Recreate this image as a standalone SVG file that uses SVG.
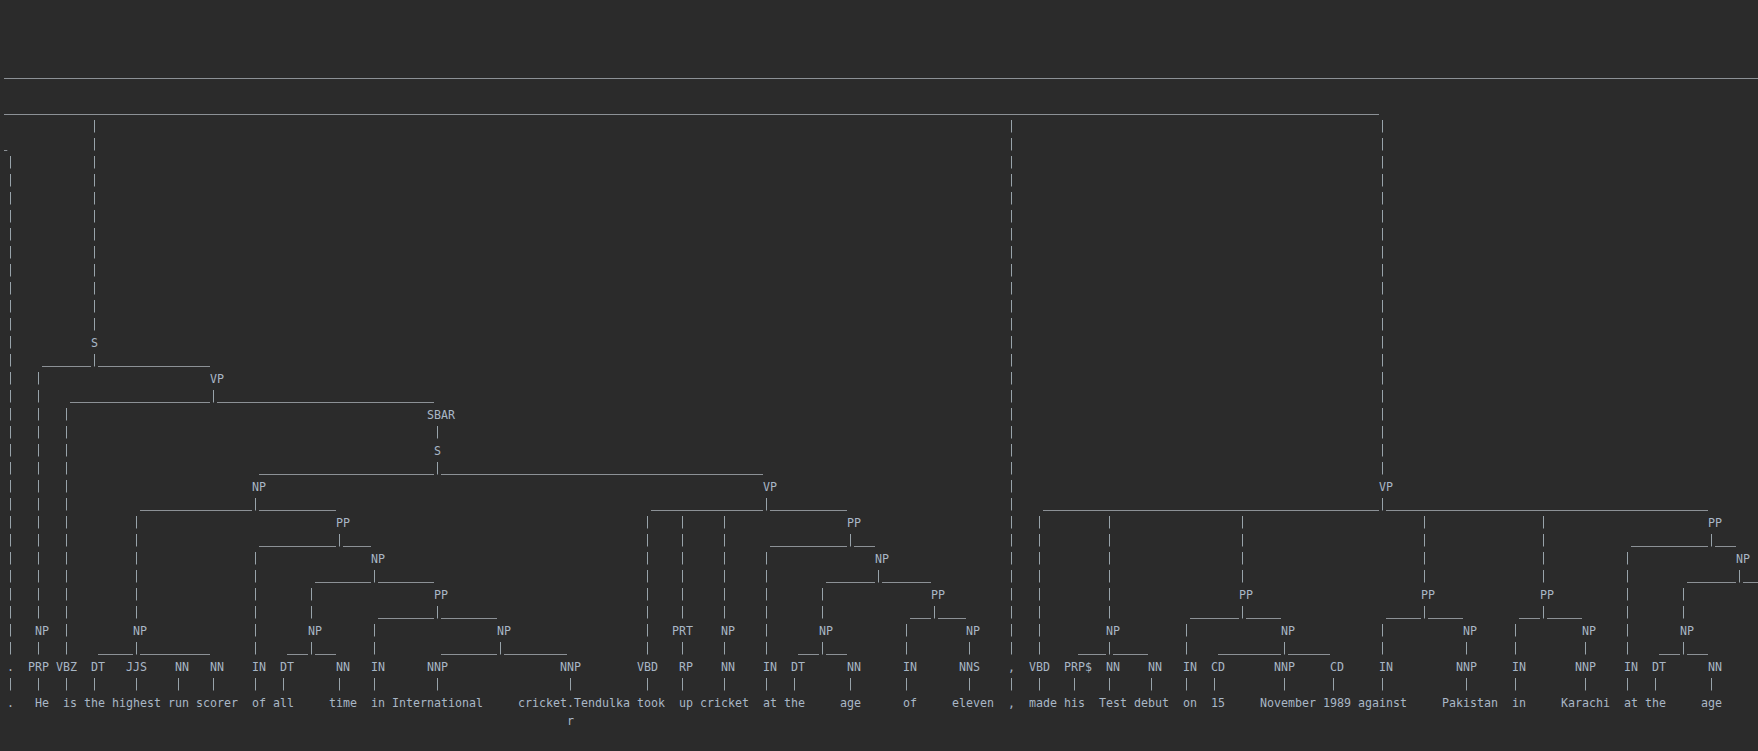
<svg xmlns="http://www.w3.org/2000/svg" width="1758" height="751" viewBox="0 0 1758 751">
<style>
text{font-family:"DejaVu Sans Mono","Liberation Mono",monospace;font-size:11.63px;fill:#a9b7c6;white-space:pre}
.h{fill:none;stroke:#8c9196;stroke-width:1}
.v{fill:none;stroke:#98a3aa;stroke-width:1;stroke-dasharray:12.5 5.5}
</style>
<rect width="1758" height="751" fill="#2b2b2b"/>
<g id="connectors">
<path class="h" d="M4 78.5H1758M4 114.5H1379M4 150.5H7.3
M42 366.5H91M98 366.5H210
M70 402.5H210M217 402.5H434
M259 474.5H434M441 474.5H763
M140 510.5H252M259 510.5H336M651 510.5H763M770 510.5H847M1043 510.5H1379M1386 510.5H1708
M259 546.5H336M343 546.5H371M770 546.5H847M854 546.5H875M1631 546.5H1708M1715 546.5H1736
M315 582.5H371M378 582.5H434M826 582.5H875M882 582.5H931M1687 582.5H1736M1743 582.5H1758
M378 618.5H434M441 618.5H497M910 618.5H931M938 618.5H966M1190 618.5H1239M1246 618.5H1281M1386 618.5H1421M1428 618.5H1463M1519 618.5H1540M1547 618.5H1582
M98 654.5H133M140 654.5H210M287 654.5H308M315 654.5H336M441 654.5H497M504 654.5H567M798 654.5H819M826 654.5H847M1078 654.5H1106M1113 654.5H1148M1218 654.5H1281M1288 654.5H1330M1659 654.5H1680M1687 654.5H1708"/>
<path class="v" d="M10.5 156V654.5M10.5 678V690.5
M38.5 372V618.5M38.5 642V654.5M38.5 678V690.5
M66.5 408V654.5M66.5 678V690.5
M94.5 120V330.5M94.5 354V366.5M94.5 678V690.5
M136.5 516V618.5M136.5 642V654.5M136.5 678V690.5
M178.5 678V690.5
M213.5 390V402.5M213.5 678V690.5
M255.5 498V510.5M255.5 552V654.5M255.5 678V690.5
M283.5 678V690.5
M311.5 588V618.5M311.5 642V654.5
M339.5 534V546.5M339.5 678V690.5
M374.5 570V582.5M374.5 624V654.5M374.5 678V690.5
M437.5 426V438.5M437.5 462V474.5M437.5 606V618.5M437.5 678V690.5
M500.5 642V654.5
M570.5 678V690.5
M647.5 516V654.5M647.5 678V690.5
M682.5 516V618.5M682.5 642V654.5M682.5 678V690.5
M724.5 516V618.5M724.5 642V654.5M724.5 678V690.5
M766.5 498V510.5M766.5 552V654.5M766.5 678V690.5
M794.5 678V690.5
M822.5 588V618.5M822.5 642V654.5
M850.5 534V546.5M850.5 678V690.5
M878.5 570V582.5
M906.5 624V654.5M906.5 678V690.5
M934.5 606V618.5
M969.5 642V654.5M969.5 678V690.5
M1011.5 120V654.5M1011.5 678V690.5
M1039.5 516V654.5M1039.5 678V690.5
M1074.5 678V690.5
M1109.5 516V618.5M1109.5 642V654.5M1109.5 678V690.5
M1151.5 678V690.5
M1186.5 624V654.5M1186.5 678V690.5
M1214.5 678V690.5
M1242.5 516V582.5M1242.5 606V618.5
M1284.5 642V654.5M1284.5 678V690.5
M1333.5 678V690.5
M1382.5 120V474.5M1382.5 498V510.5M1382.5 624V654.5M1382.5 678V690.5
M1424.5 516V582.5M1424.5 606V618.5
M1466.5 642V654.5M1466.5 678V690.5
M1515.5 624V654.5M1515.5 678V690.5
M1543.5 516V582.5M1543.5 606V618.5
M1585.5 642V654.5M1585.5 678V690.5
M1627.5 552V654.5M1627.5 678V690.5
M1655.5 678V690.5
M1683.5 588V618.5M1683.5 642V654.5
M1711.5 534V546.5M1711.5 678V690.5
M1739.5 570V582.5"/>
</g>
<g id="phrases">
<g id="n-S1"><text x="91" y="346.5">S</text></g>
<g id="n-VP1"><text x="210" y="382.5">VP</text></g>
<g id="n-SBAR"><text x="427" y="418.5">SBAR</text></g>
<g id="n-S2"><text x="434" y="454.5">S</text></g>
<g id="n-NP35"><text x="252" y="490.5">NP</text></g>
<g id="n-VP108"><text x="763" y="490.5">VP</text></g>
<g id="n-VP196"><text x="1379" y="490.5">VP</text></g>
<g id="n-PP47"><text x="336" y="526.5">PP</text></g>
<g id="n-PP120"><text x="847" y="526.5">PP</text></g>
<g id="n-PP243"><text x="1708" y="526.5">PP</text></g>
<g id="n-NP52"><text x="371" y="562.5">NP</text></g>
<g id="n-NP124"><text x="875" y="562.5">NP</text></g>
<g id="n-NP247"><text x="1736" y="562.5">NP</text></g>
<g id="n-PP61"><text x="434" y="598.5">PP</text></g>
<g id="n-PP132"><text x="931" y="598.5">PP</text></g>
<g id="n-PP176"><text x="1239" y="598.5">PP</text></g>
<g id="n-PP202"><text x="1421" y="598.5">PP</text></g>
<g id="n-PP219"><text x="1540" y="598.5">PP</text></g>
<g id="n-NP4"><text x="35" y="634.5">NP</text></g>
<g id="n-NP18"><text x="133" y="634.5">NP</text></g>
<g id="n-NP43"><text x="308" y="634.5">NP</text></g>
<g id="n-NP70"><text x="497" y="634.5">NP</text></g>
<g id="n-PRT"><text x="672" y="634.5">PRT</text></g>
<g id="n-NP102"><text x="721" y="634.5">NP</text></g>
<g id="n-NP116"><text x="819" y="634.5">NP</text></g>
<g id="n-NP137"><text x="966" y="634.5">NP</text></g>
<g id="n-NP157"><text x="1106" y="634.5">NP</text></g>
<g id="n-NP182"><text x="1281" y="634.5">NP</text></g>
<g id="n-NP208"><text x="1463" y="634.5">NP</text></g>
<g id="n-NP225"><text x="1582" y="634.5">NP</text></g>
<g id="n-NP239"><text x="1680" y="634.5">NP</text></g>
</g>
<g id="tags">
<g id="t0"><text x="7" y="670.5">.</text></g>
<g id="t1"><text x="28" y="670.5">PRP</text></g>
<g id="t2"><text x="56" y="670.5">VBZ</text></g>
<g id="t3"><text x="91" y="670.5">DT</text></g>
<g id="t4"><text x="126" y="670.5">JJS</text></g>
<g id="t5"><text x="175" y="670.5">NN</text></g>
<g id="t6"><text x="210" y="670.5">NN</text></g>
<g id="t7"><text x="252" y="670.5">IN</text></g>
<g id="t8"><text x="280" y="670.5">DT</text></g>
<g id="t9"><text x="336" y="670.5">NN</text></g>
<g id="t10"><text x="371" y="670.5">IN</text></g>
<g id="t11"><text x="427" y="670.5">NNP</text></g>
<g id="t12"><text x="560" y="670.5">NNP</text></g>
<g id="t13"><text x="637" y="670.5">VBD</text></g>
<g id="t14"><text x="679" y="670.5">RP</text></g>
<g id="t15"><text x="721" y="670.5">NN</text></g>
<g id="t16"><text x="763" y="670.5">IN</text></g>
<g id="t17"><text x="791" y="670.5">DT</text></g>
<g id="t18"><text x="847" y="670.5">NN</text></g>
<g id="t19"><text x="903" y="670.5">IN</text></g>
<g id="t20"><text x="959" y="670.5">NNS</text></g>
<g id="t21"><text x="1008" y="670.5">,</text></g>
<g id="t22"><text x="1029" y="670.5">VBD</text></g>
<g id="t23"><text x="1064" y="670.5">PRP$</text></g>
<g id="t24"><text x="1106" y="670.5">NN</text></g>
<g id="t25"><text x="1148" y="670.5">NN</text></g>
<g id="t26"><text x="1183" y="670.5">IN</text></g>
<g id="t27"><text x="1211" y="670.5">CD</text></g>
<g id="t28"><text x="1274" y="670.5">NNP</text></g>
<g id="t29"><text x="1330" y="670.5">CD</text></g>
<g id="t30"><text x="1379" y="670.5">IN</text></g>
<g id="t31"><text x="1456" y="670.5">NNP</text></g>
<g id="t32"><text x="1512" y="670.5">IN</text></g>
<g id="t33"><text x="1575" y="670.5">NNP</text></g>
<g id="t34"><text x="1624" y="670.5">IN</text></g>
<g id="t35"><text x="1652" y="670.5">DT</text></g>
<g id="t36"><text x="1708" y="670.5">NN</text></g>
</g>
<g id="words">
<g id="w0"><text x="7" y="706.5">.</text></g>
<g id="w1"><text x="35" y="706.5">He</text></g>
<g id="w2"><text x="63" y="706.5">is</text></g>
<g id="w3"><text x="84" y="706.5">the</text></g>
<g id="w4"><text x="112" y="706.5">highest</text></g>
<g id="w5"><text x="168" y="706.5">run</text></g>
<g id="w6"><text x="196" y="706.5">scorer</text></g>
<g id="w7"><text x="252" y="706.5">of</text></g>
<g id="w8"><text x="273" y="706.5">all</text></g>
<g id="w9"><text x="329" y="706.5">time</text></g>
<g id="w10"><text x="371" y="706.5">in</text></g>
<g id="w11"><text x="392" y="706.5">International</text></g>
<g id="w12"><text x="518" y="706.5">cricket.Tendulka</text><text x="567" y="724.5">r</text></g>
<g id="w13"><text x="637" y="706.5">took</text></g>
<g id="w14"><text x="679" y="706.5">up</text></g>
<g id="w15"><text x="700" y="706.5">cricket</text></g>
<g id="w16"><text x="763" y="706.5">at</text></g>
<g id="w17"><text x="784" y="706.5">the</text></g>
<g id="w18"><text x="840" y="706.5">age</text></g>
<g id="w19"><text x="903" y="706.5">of</text></g>
<g id="w20"><text x="952" y="706.5">eleven</text></g>
<g id="w21"><text x="1008" y="706.5">,</text></g>
<g id="w22"><text x="1029" y="706.5">made</text></g>
<g id="w23"><text x="1064" y="706.5">his</text></g>
<g id="w24"><text x="1099" y="706.5">Test</text></g>
<g id="w25"><text x="1134" y="706.5">debut</text></g>
<g id="w26"><text x="1183" y="706.5">on</text></g>
<g id="w27"><text x="1211" y="706.5">15</text></g>
<g id="w28"><text x="1260" y="706.5">November</text></g>
<g id="w29"><text x="1323" y="706.5">1989</text></g>
<g id="w30"><text x="1358" y="706.5">against</text></g>
<g id="w31"><text x="1442" y="706.5">Pakistan</text></g>
<g id="w32"><text x="1512" y="706.5">in</text></g>
<g id="w33"><text x="1561" y="706.5">Karachi</text></g>
<g id="w34"><text x="1624" y="706.5">at</text></g>
<g id="w35"><text x="1645" y="706.5">the</text></g>
<g id="w36"><text x="1701" y="706.5">age</text></g>
</g>
</svg>
